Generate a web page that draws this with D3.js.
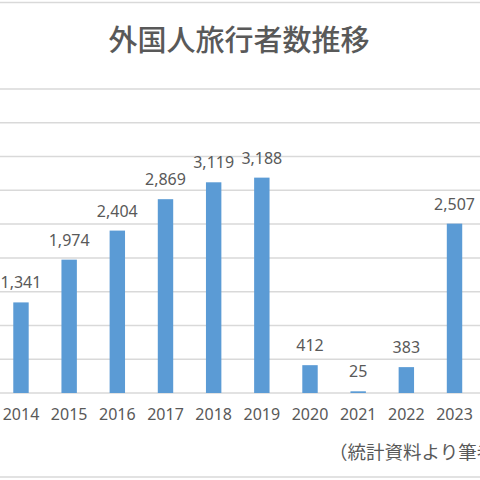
<!DOCTYPE html>
<html>
<head>
<meta charset="utf-8">
<script src="https://cdn.jsdelivr.net/npm/d3@7"></script>
<style>
  html, body { margin:0; padding:0; background:#fff; }
  svg { display:block; }
</style>
</head>
<body>
<svg id="chart" width="480" height="480" viewBox="0 0 480 480"></svg>
<script>
// 外国人旅行者数（万人）
const years = ['2014','2015','2016','2017','2018','2019','2020','2021','2022','2023'];
const visitors = [1341, 1974, 2404, 2869, 3119, 3188, 412, 25, 383, 2507];
const yTicks = [0, 500, 1000, 1500, 2000, 2500, 3000, 3500, 4000, 4500];
const titleText = '外国人旅行者数推移';
const noteText = '（統計資料より筆者作成）';

(function(){
  const svg = d3.select('#chart');
  const W = 480, H = 480;
  const textColor = '#595959', gridColor = '#d9d9d9', barColor = '#5b9bd5';
  const font = '"Noto Sans", "Noto Sans CJK JP", sans-serif';
  const cjk = '"Noto Sans CJK JP", sans-serif';

  // chart frame is cropped: only top and bottom borders are visible
  svg.append('line').attr('x1',0).attr('x2',W).attr('y1',2.5).attr('y2',2.5)
    .attr('stroke',gridColor).attr('stroke-width',1.5);
  svg.append('line').attr('x1',0).attr('x2',W).attr('y1',477).attr('y2',477)
    .attr('stroke',gridColor).attr('stroke-width',1.5);

  const x = d3.scaleBand().domain(years).range([-3.1, 478.6])
    .paddingInner(0.68).paddingOuter(0.34);
  const y = d3.scaleLinear().domain([0, 4500]).range([393, 89]);

  // gridlines
  svg.append('g').selectAll('line').data(yTicks).enter().append('line')
    .attr('x1',0).attr('x2',W)
    .attr('y1',d=>y(d)).attr('y2',d=>y(d))
    .attr('stroke',gridColor).attr('stroke-width',1.5);

  // bars
  const rows = years.map((yr,i)=>({ year:yr, value:visitors[i] }));
  svg.append('g').selectAll('rect').data(rows).enter().append('rect')
    .attr('x',d=>x(d.year)).attr('width',x.bandwidth())
    .attr('y',d=>y(d.value)).attr('height',d=>y(0)-y(d.value))
    .attr('fill',barColor);

  // data labels
  svg.append('g').selectAll('text').data(rows).enter().append('text')
    .attr('x',d=>x(d.year)+x.bandwidth()/2)
    .attr('y',d=>y(d.value)-14)
    .attr('text-anchor','middle')
    .attr('font-family',font).attr('font-size','16px').attr('fill',textColor)
    .text(d=>d3.format(',')(d.value));

  // category axis
  const xAxis = svg.append('g').attr('transform',`translate(0,${y(0)})`)
    .call(d3.axisBottom(x).tickSize(0).tickPadding(16));
  xAxis.select('.domain').remove();
  xAxis.selectAll('text').attr('font-family',font).attr('font-size','16px').attr('fill',textColor);

  // title
  svg.append('text').attr('x',239).attr('y',51).attr('text-anchor','middle')
    .attr('font-family',cjk).attr('font-size','29px')
    .attr('font-weight',500).attr('fill',textColor).text(titleText);

  // source note (runs off the right edge as in the reference)
  svg.append('text').attr('x',329).attr('y',459)
    .attr('font-family',cjk).attr('font-size','18.5px')
    .attr('fill',textColor).text(noteText);
})();
</script>
</body>
</html>
